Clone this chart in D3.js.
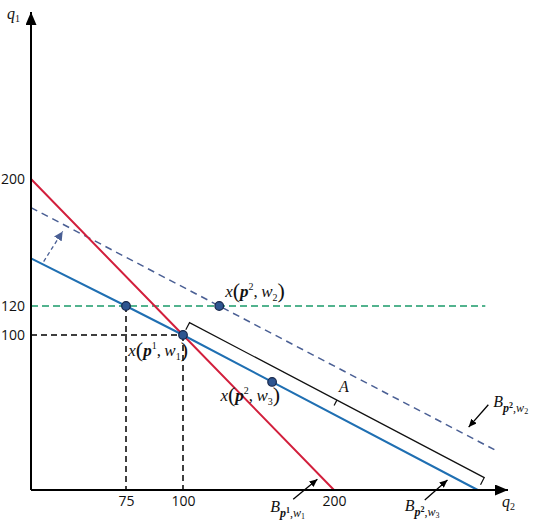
<!DOCTYPE html>
<html>
<head>
<meta charset="utf-8">
<script src="https://cdn.jsdelivr.net/npm/d3@7"></script>
<style>
  body { margin: 0; background: #fff; }
  .tick text { font-family: "Open Sans", sans-serif; font-size: 14px; fill: #111; }
  .math { font-family: "Liberation Serif", "DejaVu Serif", serif; fill: #111; }
</style>
</head>
<body>
<svg width="540" height="524"></svg>
<script>
// tick values on both axes
const xTicks = [75, 100, 200];
const yTicks = [100, 120, 200];

// budget lines, (q2, q1) pairs
const budgetP1W1 = [[0, 200], [100, 100], [200, 0]];
const budgetP2W3 = [[0, 150], [75, 120], [100, 100], [295, 0]];
const budgetP2W2 = [[0, 182], [124, 120], [306, 26]];
const level120 = [[0, 120], [300, 120]];

// chosen bundles
const choiceQ2 = [75, 100, 124, 159];
const choiceQ1 = [120, 100, 120, 69.7];

// shift arrow and label pointers (tail, head)
const shiftArrow = [[10, 148], [25, 167]];
const pointerTails = [[173, -6], [260, -6.5], [302, 55]];
const pointerHeads = [[189, 7], [275, 6.5], [289, 40.6]];

const axisMax = [315, 305];

const svg = d3.select("svg");

// the figure is a sketch, not to scale, so the scales are piecewise
const x = d3.scaleLinear().domain([0, 75, 100, 200, 315]).range([31, 126, 183, 334, 508]);
const y = d3.scaleLinear().domain([0, 100, 120, 200, 305]).range([490, 335, 306, 179, 12]);

const line = d3.line().x(d => x(d[0])).y(d => y(d[1]));

const defs = svg.append("defs");
function marker(id, color, len, wid) {
  defs.append("marker")
      .attr("id", id)
      .attr("markerUnits", "userSpaceOnUse")
      .attr("viewBox", `0 0 ${len} ${wid}`)
      .attr("refX", len).attr("refY", wid / 2)
      .attr("markerWidth", len).attr("markerHeight", wid)
      .attr("orient", "auto")
    .append("path")
      .attr("d", `M0,0L${len},${wid / 2}L0,${wid}Z`)
      .attr("fill", color);
}
marker("axisHead", "#000", 13, 11);
marker("ptrHead", "#000", 8, 7);
marker("shiftHead", "#4a5f94", 9, 9);

// guide lines
svg.append("path").attr("d", line(level120))
    .attr("fill", "none").attr("stroke", "#1a9a6a").attr("stroke-width", 1.5)
    .attr("stroke-dasharray", "7,4");

svg.append("path").attr("d", line([[0, 100], [100, 100]]))
    .attr("fill", "none").attr("stroke", "#000").attr("stroke-width", 1.5)
    .attr("stroke-dasharray", "6,4");
svg.append("path").attr("d", line([[75, 120], [75, 0]]))
    .attr("fill", "none").attr("stroke", "#000").attr("stroke-width", 1.5)
    .attr("stroke-dasharray", "6,4");
svg.append("path").attr("d", line([[100, 100], [100, 0]]))
    .attr("fill", "none").attr("stroke", "#000").attr("stroke-width", 1.5)
    .attr("stroke-dasharray", "6,4");

// budget lines
svg.append("path").attr("d", line(budgetP2W2))
    .attr("fill", "none").attr("stroke", "#4a5f94").attr("stroke-width", 1.5)
    .attr("stroke-dasharray", "7,5");
svg.append("path").attr("d", line(budgetP1W1))
    .attr("fill", "none").attr("stroke", "#d21f3c").attr("stroke-width", 2);
svg.append("path").attr("d", line(budgetP2W3))
    .attr("fill", "none").attr("stroke", "#1f6fb2").attr("stroke-width", 2);

// shift arrow
svg.append("path").attr("d", line(shiftArrow))
    .attr("fill", "none").attr("stroke", "#4a5f94").attr("stroke-width", 1.3)
    .attr("stroke-dasharray", "4,3")
    .attr("marker-end", "url(#shiftHead)");

// bracket A along the blue line
const s = [x(100), y(100)], e = [x(295), y(0)];
const len = Math.hypot(e[0] - s[0], e[1] - s[1]);
const n = [(e[1] - s[1]) / len, -(e[0] - s[0]) / len];
const off = 14;
const at = (p, k) => [p[0] + n[0] * k, p[1] + n[1] * k];
const m = [(s[0] + e[0]) / 2, (s[1] + e[1]) / 2];
const bp = d3.path();
let p = at(s, off - 8); bp.moveTo(p[0], p[1]);
p = at(s, off); bp.lineTo(p[0], p[1]);
p = at(e, off); bp.lineTo(p[0], p[1]);
p = at(e, off - 8); bp.lineTo(p[0], p[1]);
p = at(m, off); bp.moveTo(p[0], p[1]);
p = at(m, off - 6); bp.lineTo(p[0], p[1]);
svg.append("path").attr("d", bp.toString())
    .attr("fill", "none").attr("stroke", "#111").attr("stroke-width", 1.2);
const aPos = at(m, off + 15);
svg.append("text").attr("class", "math")
    .attr("x", aPos[0]).attr("y", aPos[1] + 5)
    .attr("text-anchor", "middle")
    .attr("font-size", 16).attr("font-style", "italic")
    .text("A");

// axes
svg.append("g")
    .attr("transform", `translate(0,${y(0)})`)
    .call(d3.axisBottom(x).tickValues(xTicks).tickSize(0).tickPadding(6))
    .call(g => g.select(".domain").remove());
svg.append("g")
    .attr("transform", `translate(${x(0)},0)`)
    .call(d3.axisLeft(y).tickValues(yTicks).tickSize(0).tickPadding(6))
    .call(g => g.select(".domain").remove());

svg.append("line")
    .attr("x1", x(0)).attr("y1", y(0)).attr("x2", x(axisMax[0])).attr("y2", y(0))
    .attr("stroke", "#000").attr("stroke-width", 2)
    .attr("marker-end", "url(#axisHead)");
svg.append("line")
    .attr("x1", x(0)).attr("y1", y(0)).attr("x2", x(0)).attr("y2", y(axisMax[1]))
    .attr("stroke", "#000").attr("stroke-width", 2)
    .attr("marker-end", "url(#axisHead)");

// label pointers
pointerTails.forEach((t, i) => {
  svg.append("path").attr("d", line([t, pointerHeads[i]]))
      .attr("stroke", "#000").attr("stroke-width", 1.3)
      .attr("marker-end", "url(#ptrHead)");
});

// chosen bundles
svg.selectAll(".choice")
  .data(choiceQ2)
  .enter().append("circle")
    .attr("class", "choice")
    .attr("cx", d => x(d))
    .attr("cy", (d, i) => y(choiceQ1[i]))
    .attr("r", 4.3)
    .attr("fill", "#2e5590")
    .attr("stroke", "#16264a")
    .attr("stroke-width", 1.2);

// math text helper: parts are [text, size, dy, style]
function math(px, py, anchor, parts) {
  const t = svg.append("text").attr("class", "math")
      .attr("x", px).attr("y", py).attr("text-anchor", anchor);
  parts.forEach(([txt, size, dy, st]) => {
    t.append("tspan")
        .attr("font-size", size)
        .attr("dy", dy)
        .attr("font-style", st.includes("i") ? "italic" : "normal")
        .attr("font-weight", st.includes("b") ? "bold" : "normal")
        .text(txt);
  });
}
const xLabel = (sup, sub) => [
  ["x", 17, 0, "i"], ["(", 22, 1, ""], ["p", 17, -1, "bi"], [sup, 10, -7, ""],
  [",", 17, 7, ""], ["\u2009w", 17, 0, "i"], [sub, 10, 4, ""], [")", 22, -3, ""]
];
const bLabel = (sup, sub) => [
  ["B", 16, 0, "i"], ["p", 12, 5, "bi"], [sup, 8, -4, "b"], [",", 12, 4, ""],
  ["w", 12, 0, "i"], [sub, 8, 2, ""]
];

math(x(124) + 6, y(120) - 9, "start", xLabel("2", "2"));
math(x(100) + 5, y(100) + 21, "end", xLabel("1", "1"));
math(x(159) + 8, y(69.7) + 19, "end", xLabel("2", "3"));

const tailPx = pointerTails.map(t => [x(t[0]), y(t[1])]);
math(tailPx[0][0] - 23, tailPx[0][1] + 13, "start", bLabel("1", "1"));
math(tailPx[1][0] - 20, tailPx[1][1] + 11, "start", bLabel("2", "3"));
math(tailPx[2][0] + 5, tailPx[2][1] + 2, "start", bLabel("2", "2"));

// axis names
math(7, 19, "start", [["q", 16, 0, "i"], ["1", 10, 3, ""]]);
math(502, 507, "start", [["q", 16, 0, "i"], ["2", 10, 3, ""]]);
</script>
</body>
</html>
